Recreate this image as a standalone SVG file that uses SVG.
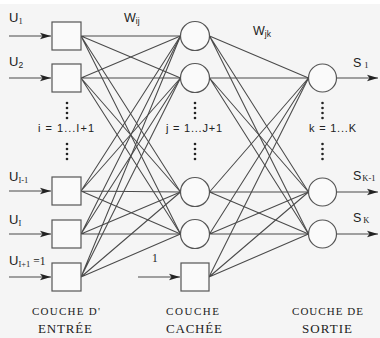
<svg xmlns="http://www.w3.org/2000/svg" width="380" height="338" viewBox="0 0 380 338">
<style>
.bg{fill:#f5f5f5}
.node{fill:#fafafa;stroke:#555;stroke-width:1.2}
.c{stroke:#4a4a4a;stroke-width:1.05;fill:none}
.arr{stroke:#4a4a4a;stroke-width:1.2;fill:none;marker-end:url(#ah)}
.lbl{font-family:"Liberation Sans",Arial,sans-serif;fill:#222}
.ser{font-family:"Liberation Serif","Times New Roman",serif;fill:#222}
.dot{fill:#222}
</style>
<defs>
<marker id="ah" markerWidth="12" markerHeight="8" refX="11" refY="4" orient="auto" markerUnits="userSpaceOnUse">
<path d="M0,0.8 L11,4 L0,7.2 L2.5,4 Z" fill="#222"/>
</marker>
</defs>
<rect class="bg" x="0" y="4" width="380" height="334"/>
<rect x="0" y="0" width="380" height="4" fill="#ffffff"/>

<g id="connectors">
<g class="c">
<path d="M81,36 L180.5,36 M81,36 L180.5,78 M81,36 L180.5,192 M81,36 L180.5,234"/>
<path d="M81,78 L180.5,36 M81,78 L180.5,78 M81,78 L180.5,192 M81,78 L180.5,234"/>
<path d="M81,191 L180.5,36 M81,191 L180.5,78 M81,191 L180.5,192 M81,191 L180.5,234"/>
<path d="M81,234 L180.5,36 M81,234 L180.5,78 M81,234 L180.5,192 M81,234 L180.5,234"/>
<path d="M81,277 L180.5,36 M81,277 L180.5,78 M81,277 L180.5,192 M81,277 L180.5,234"/>
<path d="M209.5,36 L308.5,78 M209.5,36 L308.5,192 M209.5,36 L308.5,234"/>
<path d="M209.5,78 L308.5,78 M209.5,78 L308.5,192 M209.5,78 L308.5,234"/>
<path d="M209.5,192 L308.5,78 M209.5,192 L308.5,192 M209.5,192 L308.5,234"/>
<path d="M209.5,234 L308.5,78 M209.5,234 L308.5,192 M209.5,234 L308.5,234"/>
<path d="M209,277 L308.5,78 M209,277 L308.5,192 M209,277 L308.5,234"/>
</g>
<path class="arr" d="M9,36 L51,36"/>
<path class="arr" d="M9,78 L51,78"/>
<path class="arr" d="M9,191 L51,191"/>
<path class="arr" d="M9,234 L51,234"/>
<path class="arr" d="M9,277 L51,277"/>
<path class="arr" d="M138,277 L180,277"/>
<path class="arr" d="M336.5,78 L378,78"/>
<path class="arr" d="M336.5,192 L378,192"/>
<path class="arr" d="M336.5,234 L378,234"/>
</g>

<g id="in1"><rect class="node" x="52" y="22" width="29" height="28"/></g>
<g id="in2"><rect class="node" x="52" y="64" width="29" height="28"/></g>
<g id="inIm1"><rect class="node" x="52" y="177" width="29" height="28"/></g>
<g id="inI"><rect class="node" x="52" y="220" width="29" height="28"/></g>
<g id="inIp1"><rect class="node" x="52" y="263" width="29" height="28"/></g>

<g id="h1"><circle class="node" cx="195" cy="36" r="14.5"/></g>
<g id="h2"><circle class="node" cx="195" cy="78" r="14.5"/></g>
<g id="hJm1"><circle class="node" cx="195" cy="192" r="14.5"/></g>
<g id="hJ"><circle class="node" cx="195" cy="234" r="14.5"/></g>
<g id="hbias"><rect class="node" x="181" y="263" width="28" height="28"/></g>

<g id="o1"><circle class="node" cx="322.5" cy="78" r="14"/></g>
<g id="oKm1"><circle class="node" cx="322.5" cy="192" r="14"/></g>
<g id="oK"><circle class="node" cx="322.5" cy="234" r="14"/></g>

<g id="dots">
<circle class="dot" cx="67" cy="103" r="1.3"/><circle class="dot" cx="67" cy="108" r="1.3"/><circle class="dot" cx="67" cy="113" r="1.3"/><circle class="dot" cx="67" cy="118" r="1.3"/>
<circle class="dot" cx="67" cy="144" r="1.3"/><circle class="dot" cx="67" cy="149" r="1.3"/><circle class="dot" cx="67" cy="154" r="1.3"/><circle class="dot" cx="67" cy="159" r="1.3"/>
<circle class="dot" cx="195" cy="103" r="1.3"/><circle class="dot" cx="195" cy="108" r="1.3"/><circle class="dot" cx="195" cy="113" r="1.3"/><circle class="dot" cx="195" cy="118" r="1.3"/>
<circle class="dot" cx="195" cy="144" r="1.3"/><circle class="dot" cx="195" cy="149" r="1.3"/><circle class="dot" cx="195" cy="154" r="1.3"/><circle class="dot" cx="195" cy="159" r="1.3"/>
<circle class="dot" cx="322.5" cy="103" r="1.3"/><circle class="dot" cx="322.5" cy="108" r="1.3"/><circle class="dot" cx="322.5" cy="113" r="1.3"/><circle class="dot" cx="322.5" cy="118" r="1.3"/>
<circle class="dot" cx="322.5" cy="144" r="1.3"/><circle class="dot" cx="322.5" cy="149" r="1.3"/><circle class="dot" cx="322.5" cy="154" r="1.3"/><circle class="dot" cx="322.5" cy="159" r="1.3"/>
</g>

<g id="labels">
<text class="lbl" x="9" y="22" font-size="13">U<tspan font-size="8.5" dy="2" font-family="Liberation Serif,serif">1</tspan></text>
<text class="lbl" x="9" y="66" font-size="13">U<tspan font-size="8.5" dy="2">2</tspan></text>
<text class="lbl" x="9" y="181" font-size="13">U<tspan font-size="8.5" dy="2" font-family="Liberation Serif,serif">I-1</tspan></text>
<text class="lbl" x="9" y="224" font-size="13">U<tspan font-size="8.5" dy="2" font-family="Liberation Serif,serif">I</tspan></text>
<text class="lbl" x="9" y="265" font-size="13">U<tspan font-size="8.5" dy="2" font-family="Liberation Serif,serif">I+1</tspan><tspan dy="-2" font-size="11.5" font-family="Liberation Serif,serif"> =1</tspan></text>
<text class="ser" x="152" y="262" font-size="11.5">1</text>
<text class="lbl" x="124" y="22" font-size="12.5">W<tspan font-size="8.5" dy="2">ij</tspan></text>
<text class="lbl" x="253" y="35" font-size="12.5">W<tspan font-size="8.5" dy="2">jk</tspan></text>
<text class="lbl" x="353" y="67" font-size="12.5">S<tspan font-size="8.5" dx="3" dy="1" font-family="Liberation Serif,serif">1</tspan></text>
<text class="lbl" x="353" y="180" font-size="12.5">S<tspan font-size="8.5" dx="1" dy="1" font-family="Liberation Serif,serif">K-1</tspan></text>
<text class="lbl" x="353" y="222" font-size="12.5">S<tspan font-size="8.5" dx="2" dy="1" font-family="Liberation Serif,serif">K</tspan></text>
<text class="lbl" x="38" y="132" font-size="11" textLength="56">i = 1...I+1</text>
<text class="lbl" x="166" y="132" font-size="11" textLength="56">j = 1...J+1</text>
<text class="lbl" x="309" y="132" font-size="11" textLength="47">k = 1...K</text>
<text class="ser" x="32" y="315" font-size="11" textLength="68">COUCHE D'</text>
<text class="ser" x="38" y="333" font-size="13" textLength="54">ENTRÉE</text>
<text class="ser" x="166" y="315" font-size="11" textLength="53">COUCHE</text>
<text class="ser" x="166" y="333" font-size="13" textLength="56">CACHÉE</text>
<text class="ser" x="292" y="315" font-size="11" textLength="71">COUCHE DE</text>
<text class="ser" x="302" y="333" font-size="13" textLength="50">SORTIE</text>
</g>
</svg>
